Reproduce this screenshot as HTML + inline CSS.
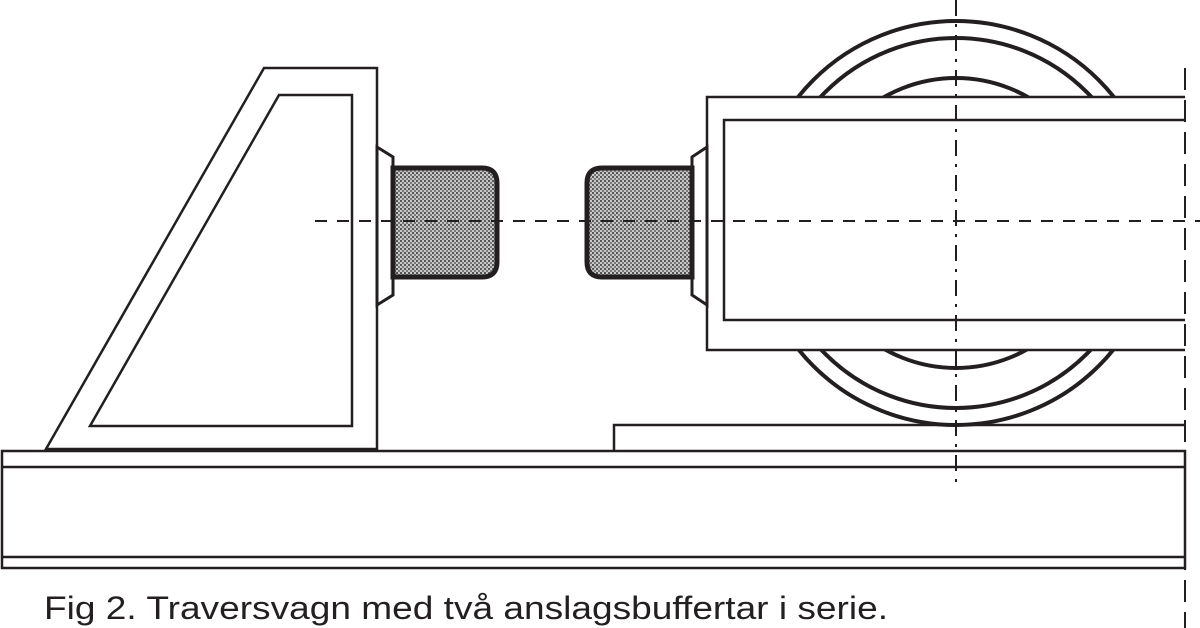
<!DOCTYPE html>
<html><head><style>
html,body{margin:0;padding:0;background:#fff;}
svg{display:block;}
</style></head><body>
<svg width="1200" height="628" viewBox="0 0 1200 628" xmlns="http://www.w3.org/2000/svg">
<defs>
<pattern id="st" width="4" height="4" patternUnits="userSpaceOnUse">
<rect width="4" height="4" fill="#c8c8c8"/>
<rect x="0" y="0" width="2" height="2" fill="#555"/>
<rect x="2" y="2" width="2" height="2" fill="#777"/>
</pattern>
<clipPath id="cl"><rect x="0" y="0" width="1200" height="97"/><rect x="0" y="350" width="1200" height="100"/></clipPath>
</defs>
<g fill="none" stroke="#231f20">
<!-- wheel arcs -->
<g clip-path="url(#cl)" stroke-width="4">
<circle cx="956" cy="223" r="202"/>
<circle cx="956" cy="223" r="185"/>
<circle cx="956" cy="223" r="145"/>
</g>
<!-- left block -->
<polygon points="264,68 377,68 377,449 46,449" stroke-width="2.5"/>
<polygon points="279,95 352,95 352,426 90,426" stroke-width="2.5"/>
<!-- right box -->
<polyline points="1185,97 707,97 707,350 1185,350" stroke-width="2.5"/>
<polyline points="1185,120 724,120 724,320 1185,320" stroke-width="2.5"/>
<!-- platform -->
<polyline points="1185,425 614,425 614,451" stroke-width="2.5"/>
<!-- rail -->
<rect x="2" y="451" width="1183" height="117" stroke-width="2.5"/>
<line x1="2" y1="467" x2="1185" y2="467" stroke-width="2.5"/>
<line x1="2" y1="557" x2="1185" y2="557" stroke-width="2.5"/>
<!-- flanges -->
<polygon points="377,147 393,157 393,295 377,305" stroke-width="3" fill="#fff"/>
<polygon points="707,147 692,157 692,295 707,305" stroke-width="3" fill="#fff"/>
<!-- buffers -->
<path d="M393,168 H482 Q497,168 497,183 V262 Q497,277 482,277 H393 Z" fill="url(#st)" stroke-width="5"/>
<path d="M692,168 H602 Q587,168 587,183 V262 Q587,277 602,277 H692 Z" fill="url(#st)" stroke-width="5"/>
<!-- center lines -->
<line x1="315" y1="221" x2="1200" y2="221" stroke-width="2" stroke-dasharray="12,10"/>
<line x1="956" y1="0" x2="956" y2="488" stroke-width="2" stroke-dasharray="16,8,3,8"/>
<line x1="1185" y1="68" x2="1185" y2="628" stroke-width="2" stroke-dasharray="22,10"/>
</g>
<text x="44" y="619" font-family="Liberation Sans, sans-serif" font-size="32" fill="#231f20" textLength="844" lengthAdjust="spacingAndGlyphs">Fig 2. Traversvagn med två anslagsbuffertar i serie.</text>
</svg>
</body></html>
